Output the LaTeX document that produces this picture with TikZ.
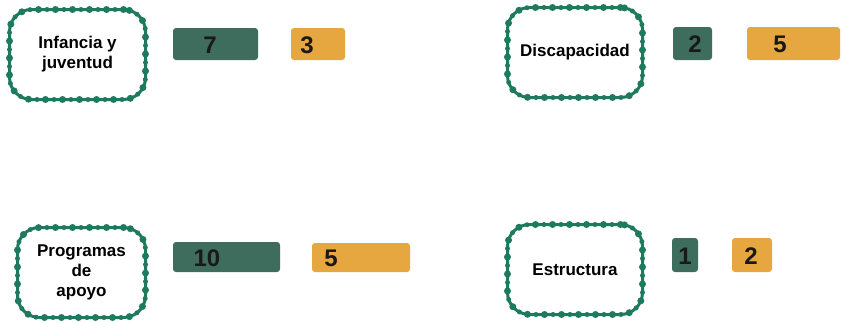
\documentclass[tikz,border=0pt]{standalone}
\usepackage{fontspec}
\setmainfont{Liberation Sans}
\usepackage{tikz}
\definecolor{marcoverde}{HTML}{1E7A5C}
\definecolor{barraverde}{HTML}{3E6D5E}
\definecolor{barranaranja}{HTML}{E6A640}
\tikzset{
  marco/.style={draw=marcoverde, line width=3pt, rounded corners=22pt, align=center,
    font=\fontsize{17}{20}\selectfont\bfseries, inner sep=0pt,
    postaction={draw=marcoverde, line width=7pt, line cap=round, dash pattern=on 0pt off 17pt},
    postaction={draw=marcoverde, line width=5pt, line cap=round, dash pattern=on 0pt off 17pt, dash phase=8.5pt}},
  barra/.style={rounded corners=3pt, inner sep=0pt, outer sep=0pt},
  cifra/.style={font=\fontsize{24}{24}\selectfont\bfseries, inner sep=0pt, text=black!90}
}
\newcommand{\barra}[6]{\node[barra, fill=#1, minimum width=#4pt, minimum height=#5pt] (#6) at (#2,#3) {};}

\begin{document}
\begin{tikzpicture}[x=1pt,y=-1pt]
        \useasboundingbox (0,0) rectangle (841,322);

        % marcos
        \node[marco, minimum width=136pt, minimum height=90pt] (infancia) at (77.5,54.5) {Infancia y\\juventud};
        \node[marco, minimum width=135pt, minimum height=90pt] (discapacidad) at (575,52.5) {Discapacidad};
        \node[marco, minimum width=128pt, minimum height=90pt] (programas) at (81.5,272.5) {Programas\\de\\apoyo};
        \node[marco, minimum width=135pt, minimum height=90pt] (estructura) at (575,269.5) {Estructura};

        % fila 1
        \barra{barraverde}{215.5}{44}{85}{32}{infV}
        \barra{barranaranja}{318}{44}{54}{32}{infN}
        \node[cifra] (infVn) at (210,45) {7};
        \node[cifra] (infNn) at (307,45) {3};

        \barra{barraverde}{692.5}{43.5}{39}{33}{disV}
        \barra{barranaranja}{793.5}{43.5}{93}{33}{disN}
        \node[cifra] (disVn) at (695,44) {2};
        \node[cifra] (disNn) at (780,44) {5};

        % fila 2
        \barra{barraverde}{226.5}{257}{107}{30}{proV}
        \barra{barranaranja}{361}{257.5}{98}{29}{proN}
        \node[cifra] (proVn) at (207,258) {10};
        \node[cifra] (proNn) at (331,258) {5};

        \barra{barraverde}{685}{255}{26}{34}{estV}
        \barra{barranaranja}{752}{255}{40}{34}{estN}
        \node[cifra] (estVn) at (685,256) {1};
        \node[cifra] (estNn) at (751,256) {2};
    \end{tikzpicture}
\end{document}
